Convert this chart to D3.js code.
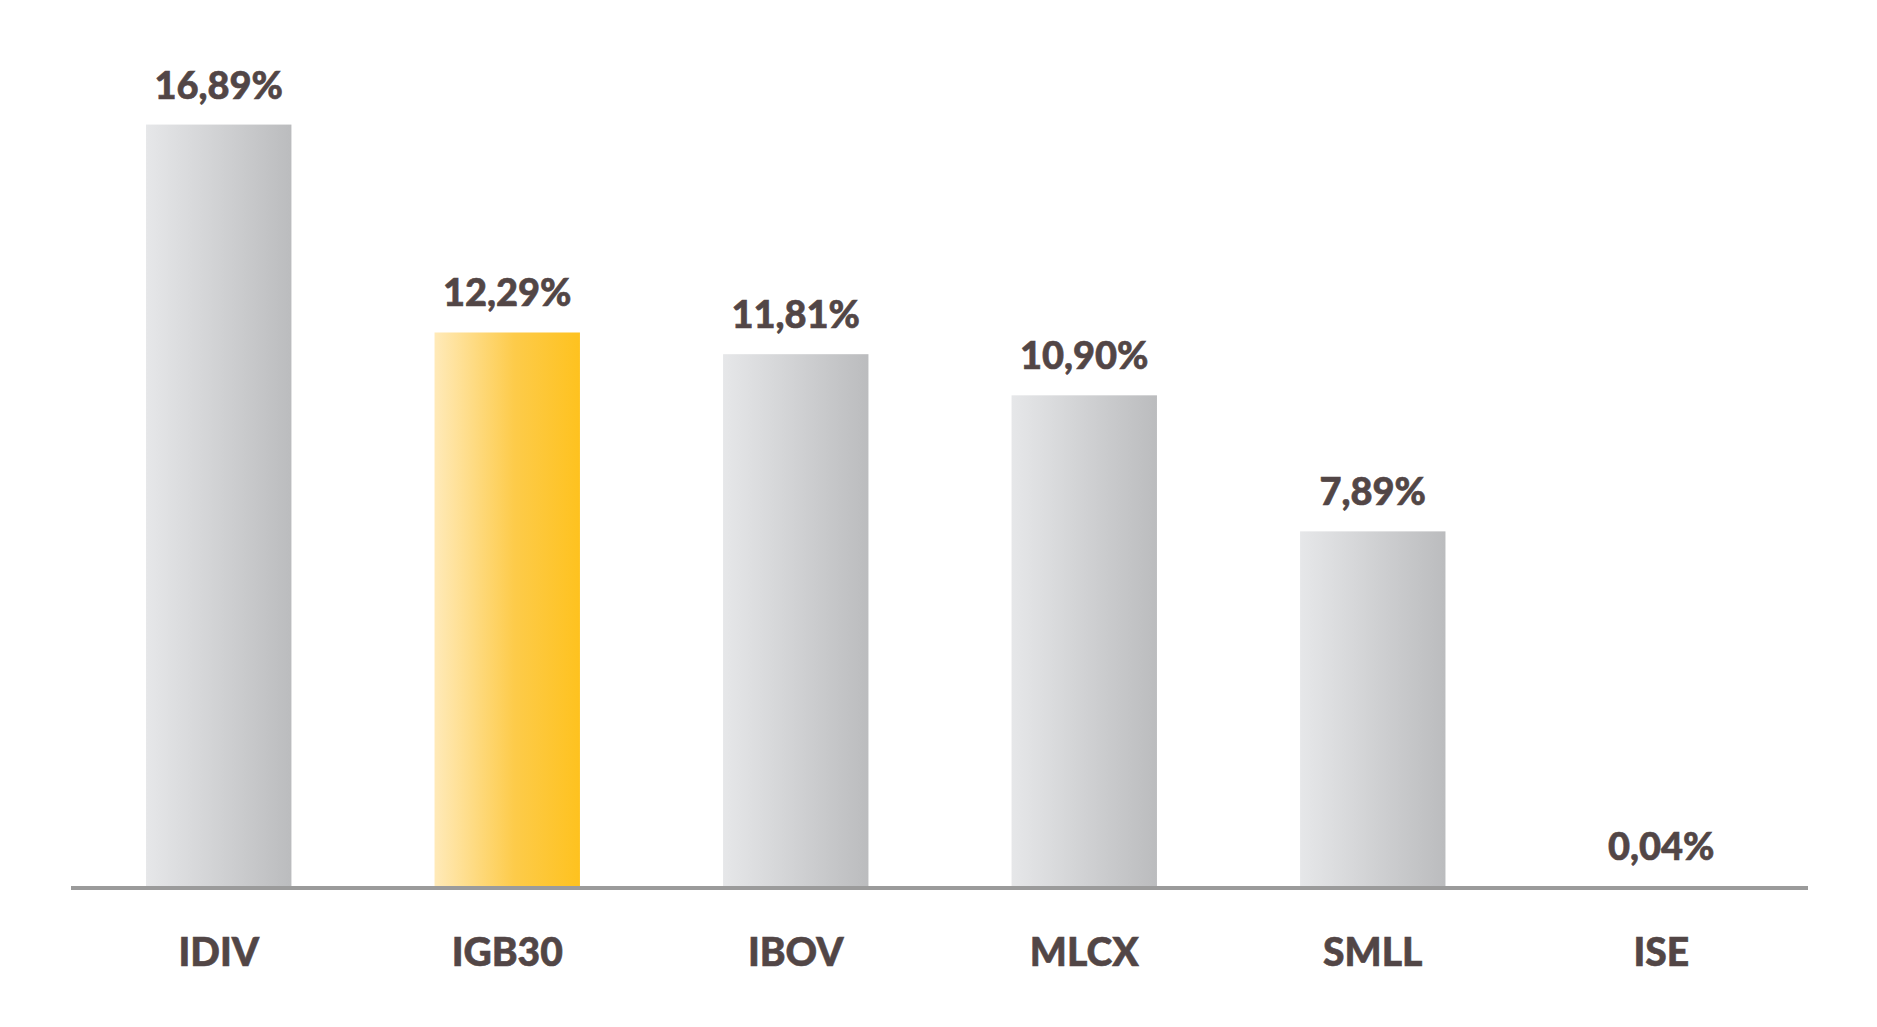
<!DOCTYPE html>
<html><head><meta charset="utf-8">
<script src="https://cdn.jsdelivr.net/npm/d3@7"></script>
<style>html,body{margin:0;padding:0;background:#fff;}</style>
</head><body>
<svg id="chart" width="1877" height="1027"></svg>
<script>
const categories = ["IDIV","IGB30","IBOV","MLCX","SMLL","ISE"];
const values = [16.89, 12.29, 11.81, 10.90, 7.89, 0.04];
const labels = ["16,89%","12,29%","11,81%","10,90%","7,89%","0,04%"];
const highlight = "IGB30";

const svg = d3.select("#chart");
const textColor = "#524646";
const baseY = 888;

const x = d3.scaleBand().domain(categories).range([73.9, 1806.1]).paddingInner(0.496).paddingOuter(0.25);
const y = d3.scaleLinear().domain([0, 16.89]).range([baseY, baseY - 45.2 * 16.89]);

const defs = svg.append("defs");
const g1 = defs.append("linearGradient").attr("id","gGray").attr("x1","0%").attr("x2","100%").attr("y1","0%").attr("y2","0%");
g1.append("stop").attr("offset","0%").attr("stop-color","#e6e7e9");
g1.append("stop").attr("offset","100%").attr("stop-color","#bbbcbe");
const g2 = defs.append("linearGradient").attr("id","gGold").attr("x1","0%").attr("x2","100%").attr("y1","0%").attr("y2","0%");
g2.append("stop").attr("offset","0%").attr("stop-color","#ffeab9");
g2.append("stop").attr("offset","55%").attr("stop-color","#fdcb4a");
g2.append("stop").attr("offset","100%").attr("stop-color","#fec21f");

svg.selectAll("rect.bar").data(categories).enter().append("rect")
  .attr("class","bar")
  .attr("x", d => x(d))
  .attr("width", x.bandwidth())
  .attr("y", (d,i) => y(values[i]))
  .attr("height", (d,i) => baseY - y(values[i]))
  .attr("fill", d => d === highlight ? "url(#gGold)" : "url(#gGray)");

const xAxis = d3.axisBottom(x).tickSize(0);
const ax = svg.append("g").attr("transform", `translate(0,888)`).call(xAxis);
ax.select(".domain").remove();
ax.append("line").attr("x1",71).attr("x2",1808).attr("y1",0).attr("y2",0)
  .attr("stroke","#9b9b9b").attr("stroke-width",4);
ax.selectAll(".tick text")
  .attr("font-family","Lato, sans-serif").attr("font-weight",900)
  .attr("font-size",39).attr("fill",textColor)
  .attr("stroke",textColor).attr("stroke-width",0.6)
  .attr("dy",null).attr("y",78);

svg.selectAll("text.val").data(categories).enter().append("text")
  .attr("class","val")
  .attr("x", d => x(d) + x.bandwidth()/2)
  .attr("y", (d,i) => y(values[i]) - 26)
  .attr("text-anchor","middle")
  .attr("font-family","Lato, sans-serif").attr("font-weight",900)
  .attr("font-size",38).attr("fill",textColor)
  .attr("stroke",textColor).attr("stroke-width",0.6)
  .text((d,i) => labels[i]);
</script>
</body></html>
